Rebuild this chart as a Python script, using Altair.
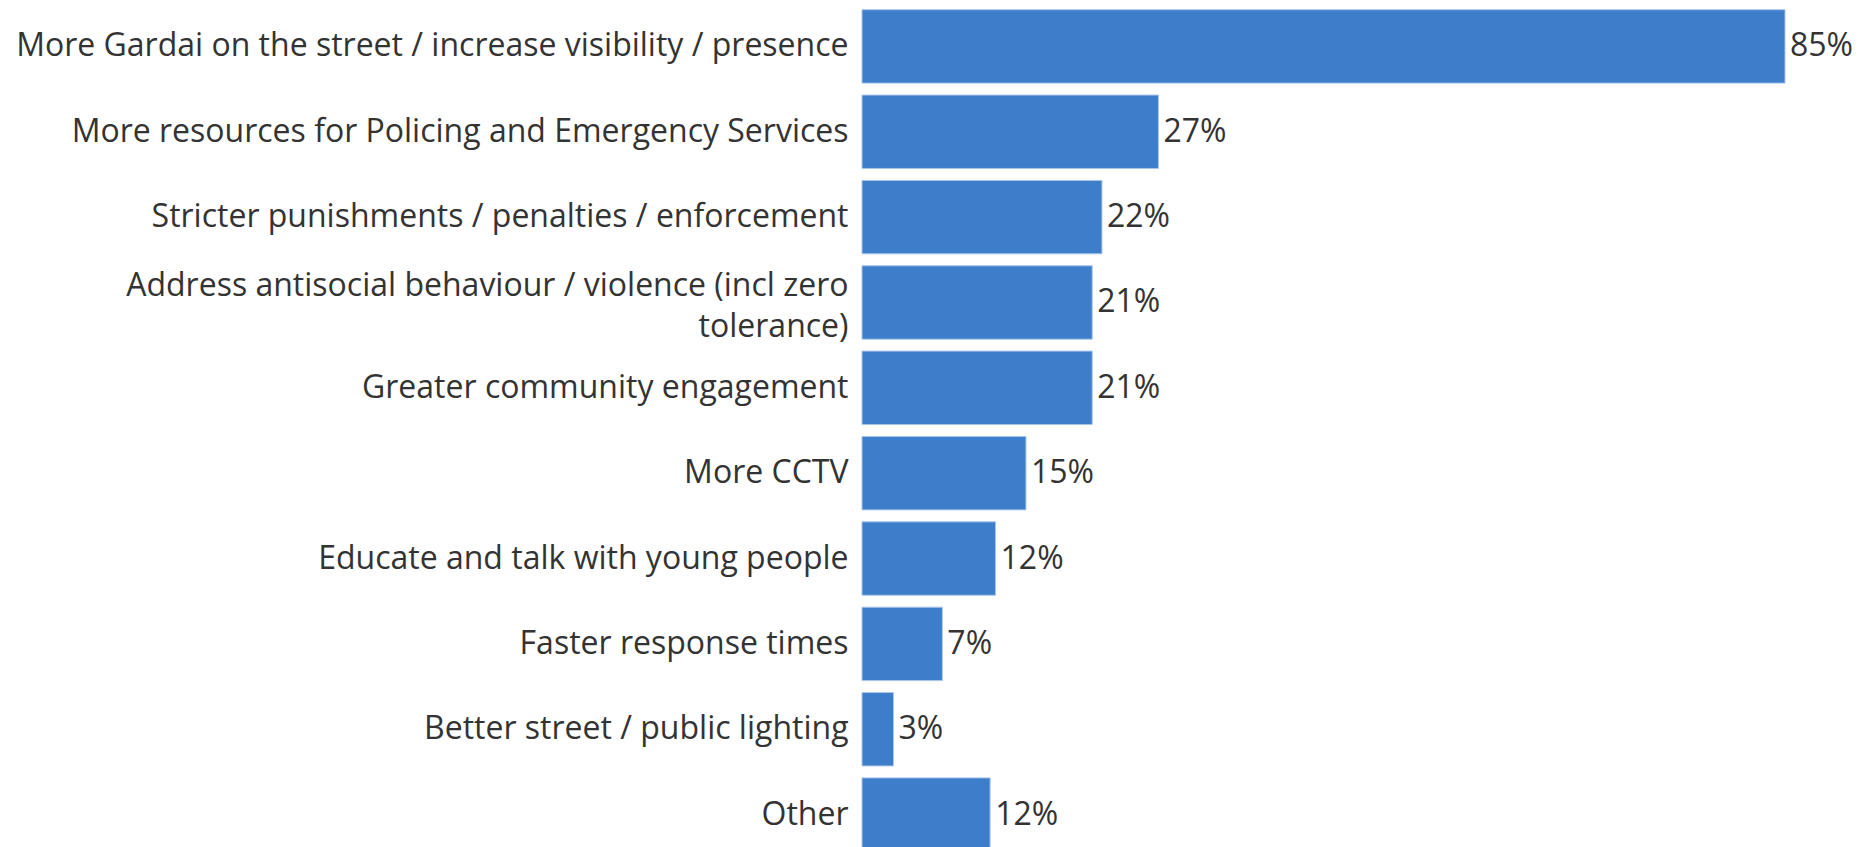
import altair as alt
import pandas as pd

categories = [
    "More Gardai on the street / increase visibility / presence",
    "More resources for Policing and Emergency Services",
    "Stricter punishments / penalties / enforcement",
    "Address antisocial behaviour / violence (incl zero tolerance)",
    "Greater community engagement",
    "More CCTV",
    "Educate and talk with young people",
    "Faster response times",
    "Better street / public lighting",
    "Other",
]
values = [85.0, 27.3, 22.1, 21.2, 21.2, 15.1, 12.3, 7.4, 2.9, 11.8]
value_labels = ["85%", "27%", "22%", "21%", "21%", "15%", "12%", "7%", "3%", "12%"]

df = pd.DataFrame({"category": categories, "value": values, "lbl": value_labels})

FONT = "Open Sans"
BAR = "#3d7dca"
TXT = "#333333"
WRAPPED = "Address antisocial behaviour / violence (incl zero tolerance)"

label_expr = (
    f"datum.label == '{WRAPPED}'"
    " ? ['Address antisocial behaviour / violence (incl zero', 'tolerance)'] : datum.label"
)

y = alt.Y(
    "category:N",
    sort=categories,
    scale=alt.Scale(paddingInner=0.14, paddingOuter=0.02),
    axis=alt.Axis(
        title=None,
        domain=False,
        ticks=False,
        grid=False,
        labelPadding=14,
        labelFont=FONT,
        labelFontSize=32,
        labelColor=TXT,
        labelLimit=1200,
        labelLineHeight=41,
        labelExpr=label_expr,
        labelOffset={"condition": {"test": f"datum.value == '{WRAPPED}'", "value": -16}, "value": 0},
    ),
)
x = alt.X(
    "value:Q",
    scale=alt.Scale(domain=[0, 85], nice=False),
    axis=None,
)

bars = alt.Chart(df).mark_bar(color=BAR, stroke="#a8c6ec", strokeWidth=1).encode(y=y, x=x)
labels = (
    alt.Chart(df)
    .mark_text(align="left", baseline="middle", dx=5, font=FONT, fontSize=32, color=TXT)
    .encode(y=y, x=x, text="lbl:N")
)

chart = (
    alt.layer(bars, labels)
    .properties(
        width=923,
        height=845,
        background="white",
        autosize=alt.AutoSizeParams(type="none"),
        padding={"left": 854, "top": 0, "right": 67, "bottom": 0},
    )
    .configure_view(strokeWidth=0, stroke="transparent")
)

chart.save("out.html", embed_options={"renderer": "svg", "actions": False})
